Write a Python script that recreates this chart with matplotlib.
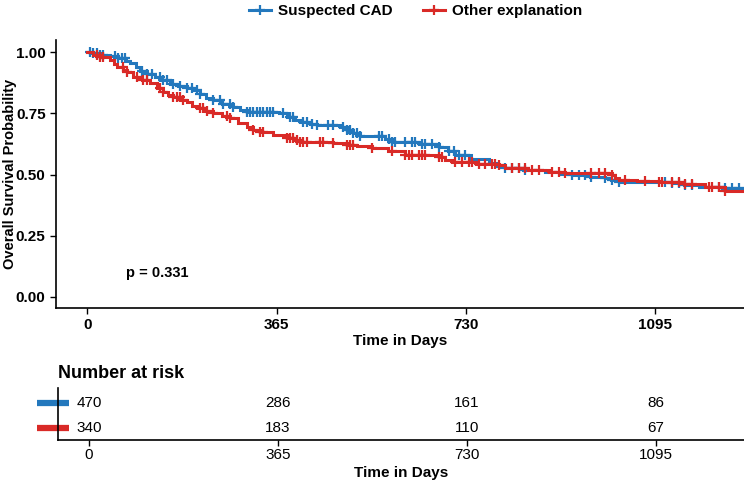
import matplotlib
matplotlib.use('Agg')
import matplotlib.pyplot as plt
import matplotlib.transforms as mtransforms
from matplotlib.lines import Line2D
import numpy as np

plt.rcParams['font.family'] = ['Liberation Sans', 'DejaVu Sans']

groups = ['Suspected CAD', 'Other explanation']
colors = ['#2378bd', '#d92a27']

# Kaplan-Meier step points (days, survival)
cad_t = [0, 10, 25, 44, 60, 75, 83, 95, 102, 115, 130, 145, 160, 175, 193, 205, 218,
         230, 243, 260, 281, 295, 308, 370, 385, 400, 410, 430, 443, 487, 501, 512, 526,
         575, 587, 640, 678, 695, 709, 740, 774, 790, 805, 840, 882, 910, 934, 970, 998,
         1010, 1025, 1127, 1150, 1179, 1223, 1262, 1270]
cad_s = [1.000, 0.995, 0.990, 0.985, 0.975, 0.965, 0.958, 0.940, 0.925, 0.910, 0.898,
         0.885, 0.872, 0.864, 0.855, 0.845, 0.830, 0.815, 0.804, 0.790, 0.776, 0.765,
         0.755, 0.750, 0.735, 0.722, 0.714, 0.706, 0.702, 0.694, 0.682, 0.669, 0.657,
         0.645, 0.633, 0.625, 0.612, 0.595, 0.580, 0.565, 0.547, 0.535, 0.527, 0.520,
         0.510, 0.503, 0.498, 0.492, 0.486, 0.478, 0.469, 0.465, 0.457, 0.449, 0.445,
         0.437, 0.437]
oth_t = [0, 12, 25, 44, 52, 58, 70, 77, 89, 105, 121, 135, 146, 156, 166, 180, 193, 203,
         212, 228, 243, 260, 275, 290, 308, 320, 333, 358, 385, 398, 410, 474, 501, 520,
         549, 580, 612, 678, 690, 703, 750, 793, 805, 850, 890, 921, 1011, 1018, 1025,
         1060, 1102, 1150, 1190, 1229, 1270]
oth_s = [1.000, 0.990, 0.980, 0.967, 0.952, 0.939, 0.928, 0.918, 0.900, 0.885, 0.873,
         0.855, 0.838, 0.826, 0.816, 0.805, 0.796, 0.782, 0.771, 0.760, 0.751, 0.740,
         0.731, 0.712, 0.694, 0.683, 0.673, 0.661, 0.649, 0.640, 0.633, 0.629, 0.620,
         0.615, 0.608, 0.595, 0.580, 0.571, 0.560, 0.551, 0.545, 0.539, 0.527, 0.518,
         0.510, 0.506, 0.498, 0.488, 0.478, 0.474, 0.469, 0.460, 0.449, 0.433, 0.433]

# censoring times (days)
cad_cens = [6, 12, 19, 25, 31, 54, 60, 67, 73, 106, 116, 125, 141, 146, 154, 166, 179,
            193, 202, 212, 218, 243, 256, 262, 275, 281, 308, 314, 320, 327, 333, 339,
            347, 352, 358, 377, 391, 397, 416, 424, 433, 443, 464, 474, 493, 501, 507,
            512, 520, 526, 562, 568, 582, 587, 593, 612, 626, 632, 645, 651, 664, 678,
            697, 707, 716, 728, 805, 818, 832, 843, 934, 948, 959, 972, 998, 1011, 1025,
            1113, 1127, 1140, 1152, 1165, 1217, 1229, 1242, 1256]
oth_cens = [19, 25, 31, 69, 77, 96, 108, 116, 141, 146, 166, 173, 179, 185, 218, 223,
            231, 243, 270, 275, 320, 333, 339, 385, 391, 397, 404, 410, 416, 424, 449,
            455, 474, 501, 507, 512, 549, 587, 612, 620, 626, 639, 645, 651, 678, 684,
            709, 722, 736, 742, 755, 767, 780, 786, 793, 818, 832, 843, 857, 871, 896,
            909, 921, 972, 986, 998, 1011, 1036, 1075, 1102, 1108, 1127, 1140, 1152,
            1165, 1198, 1204, 1217, 1229]

risk_times = [0, 365, 730, 1095]
cad_risk = [470, 286, 161, 86]
oth_risk = [340, 183, 110, 67]
p_text = 'p = 0.331'

fig = plt.figure(figsize=(7.44, 4.82), dpi=100)
ax = fig.add_axes([56 / 744, 1 - 308 / 482, 688 / 744, 268 / 482])
rt = fig.add_axes([58 / 744, 1 - 440 / 482, 686 / 744, 52 / 482])

xlim = (-60, 1266)

def style(a):
    for s in ['top', 'right']:
        a.spines[s].set_visible(False)
    for s in ['left', 'bottom']:
        a.spines[s].set_linewidth(1.2)
    a.tick_params(width=1.0, length=4, color='black')

curves = [(cad_t, cad_s, cad_cens), (oth_t, oth_s, oth_cens)]
for (t, s, cens), c in zip(curves, colors):
    t = np.array(t); s = np.array(s)
    ax.step(t, s, where='post', color=c, lw=2.2, solid_joinstyle='miter')
    idx = np.searchsorted(t, cens, side='right') - 1
    ax.plot(cens, s[idx], ls='none', marker='+', ms=6.5, mew=1.6, color=c)

ax.set_xlim(xlim)
ax.set_ylim(-0.045, 1.05)
ax.set_xticks(risk_times)
ax.set_yticks([0, 0.25, 0.5, 0.75, 1.0])
ax.set_yticklabels(['0.00', '0.25', '0.50', '0.75', '1.00'])
for lab in ax.get_xticklabels() + ax.get_yticklabels():
    lab.set_fontweight('bold')
    lab.set_fontsize(11)
ax.set_xlabel('Time in Days', fontsize=11, fontweight='bold', labelpad=1)
ax.set_ylabel('Overall Survival Probability', fontsize=10.5, fontweight='bold')
ax.yaxis.set_label_coords(-39 / 688, 0.5)
ax.text(135, 0.1, p_text, ha='center', va='center', fontsize=10.5, fontweight='bold')
style(ax)

handles = [Line2D([], [], color=c, lw=2.2, marker='+', ms=7, mew=1.6) for c in colors]
fig.legend(handles, groups, loc='upper center', bbox_to_anchor=(416 / 744, 1.02), ncol=2,
           frameon=False, prop={'weight': 'bold', 'size': 11}, handlelength=1.4,
           handletextpad=0.5, columnspacing=2.0)

# risk table
for row, (vals, c) in enumerate([(cad_risk, colors[0]), (oth_risk, colors[1])]):
    y = 1 - row
    for t, v in zip(risk_times, vals):
        rt.text(t, y, str(v), ha='center', va='center', fontsize=11)
    tr = mtransforms.blended_transform_factory(rt.transAxes, rt.transData)
    rt.plot([-0.031, 0.016], [y, y], color=c, lw=4.5, transform=tr, clip_on=False,
            solid_capstyle='butt')
rt.set_xlim(xlim)
rt.set_ylim(-0.5, 1.6)
rt.set_xticks(risk_times)
rt.set_yticks([])
for lab in rt.get_xticklabels():
    lab.set_fontsize(11)
rt.tick_params(axis='x', pad=2)
rt.set_xlabel('Time in Days', fontsize=11, fontweight='bold', labelpad=3)
rt.text(0, 1.115, 'Number at risk', transform=rt.transAxes, ha='left', va='bottom',
        fontsize=13, fontweight='bold')
style(rt)

fig.savefig('out.png', dpi=100)
